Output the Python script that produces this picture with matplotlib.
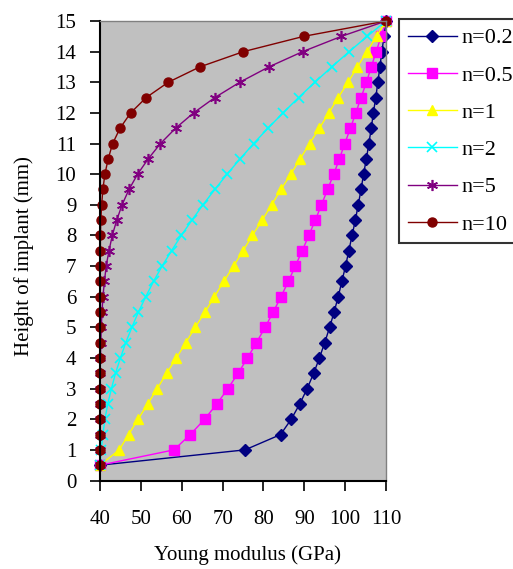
import matplotlib
matplotlib.use("Agg")
import matplotlib.pyplot as plt

plt.rcParams['font.family'] = ['Liberation Serif', 'DejaVu Serif']

height = [0.5, 1.0, 1.5, 2.0, 2.5, 3.0, 3.5, 4.0, 4.5, 5.0, 5.5, 6.0, 6.5, 7.0, 7.5,
          8.0, 8.5, 9.0, 9.5, 10.0, 10.5, 11.0, 11.5, 12.0, 12.5, 13.0, 13.5, 14.0, 14.5, 15.0]

e_n02 = [40.0, 75.5, 84.2, 86.8, 88.9, 90.7, 92.3, 93.7, 95.0, 96.2, 97.3, 98.3, 99.2, 100.1, 100.9,
         101.7, 102.5, 103.2, 103.9, 104.5, 105.2, 105.8, 106.4, 106.9, 107.5, 108.0, 108.5, 109.0, 109.5, 110.0]
e_n05 = [40.0, 58.1, 62.1, 65.6, 68.6, 71.3, 73.8, 76.1, 78.3, 80.4, 82.4, 84.3, 86.1, 87.8, 89.5,
         91.1, 92.7, 94.2, 95.7, 97.2, 98.6, 99.9, 101.3, 102.6, 103.9, 105.2, 106.4, 107.6, 108.8, 110.0]
e_n1 = [40.0, 44.7, 47.0, 49.3, 51.7, 54.0, 56.3, 58.7, 61.0, 63.3, 65.7, 68.0, 70.3, 72.7, 75.0,
        77.3, 79.7, 82.0, 84.3, 86.7, 89.0, 91.3, 93.7, 96.0, 98.3, 100.7, 103.0, 105.3, 107.7, 110.0]
e_n2 = [40.0, 40.3, 40.7, 41.2, 41.9, 42.8, 43.8, 45.0, 46.3, 47.8, 49.4, 51.2, 53.1, 55.2, 57.5,
        59.9, 62.5, 65.2, 68.1, 71.1, 74.3, 77.6, 81.1, 84.8, 88.6, 92.6, 96.7, 101.0, 105.4, 110.0]
e_n5 = [40.0, 40.0, 40.0, 40.0, 40.0, 40.0, 40.0, 40.1, 40.2, 40.3, 40.5, 40.7, 41.1, 41.5, 42.2,
        43.0, 44.1, 45.4, 47.1, 49.2, 51.8, 54.8, 58.5, 62.9, 68.1, 74.2, 81.3, 89.6, 99.1, 110.0]
e_n10 = [40.0, 40.0, 40.0, 40.0, 40.0, 40.0, 40.0, 40.0, 40.0, 40.0, 40.0, 40.0, 40.0, 40.0, 40.1,
         40.1, 40.2, 40.4, 40.7, 41.2, 42.0, 43.1, 44.9, 47.5, 51.3, 56.7, 64.4, 75.1, 89.9, 110.0]

labels = ["n=0.2", "n=0.5", "n=1", "n=2", "n=5", "n=10"]
series = [e_n02, e_n05, e_n1, e_n2, e_n5, e_n10]

x_ticks = [40, 50, 60, 70, 80, 90, 100, 110]
y_ticks = list(range(0, 16))

styles = [
    dict(color="#000080", marker="D", markersize=6),
    dict(color="#FF00FF", marker="s", markersize=6.8),
    dict(color="#FFFF00", marker="^", markersize=7.5),
    dict(color="#00FFFF", marker="x", markersize=7, markeredgewidth=1.2),
    dict(color="#800080", marker=(6, 2, 0), markersize=8, markeredgewidth=1.2),
    dict(color="#800000", marker="o", markersize=6.5),
]

fig = plt.figure(figsize=(5.13, 5.69), dpi=100)
ax = fig.add_axes([100/513, 1-480.5/569, 286/513, 459.5/569])
ax.set_facecolor("#C0C0C0")

handles = []
for lab, vals, st in zip(labels, series, styles):
    h, = ax.plot(vals, height, linewidth=1.0, label=lab, clip_on=False, **st)
    handles.append(h)

ax.set_xlim(40, 110)
ax.set_ylim(0, 15)
ax.set_xticks(x_ticks)
ax.set_yticks(y_ticks)
ax.tick_params(axis='x', direction='out', length=7, width=1.2, pad=14, labelsize=15)
ax.tick_params(axis='y', direction='out', length=7, width=1.2, pad=10, labelsize=15)

for s in ['left', 'bottom']:
    ax.spines[s].set_color('black')
    ax.spines[s].set_linewidth(1.5)
for s in ['top', 'right']:
    ax.spines[s].set_color('#808080')
    ax.spines[s].set_linewidth(1.0)

fig.text(247/513, 1-555/569, "Young modulus (GPa)", ha='center', va='center', fontsize=15)
fig.text(24/513, 1-256/569, "Height of implant (mm)", ha='center', va='center',
         rotation=90, fontsize=15)

leg = fig.legend(handles, labels, loc='upper left', bbox_to_anchor=(399/513, 1-19/569),
                 frameon=True, fancybox=False, edgecolor='black', fontsize=16,
                 handlelength=2.2, labelspacing=0.75, borderaxespad=0, borderpad=0.4,
                 handletextpad=0.2)
leg.get_frame().set_linewidth(1.5)

fig.savefig("out.png", dpi=100)
